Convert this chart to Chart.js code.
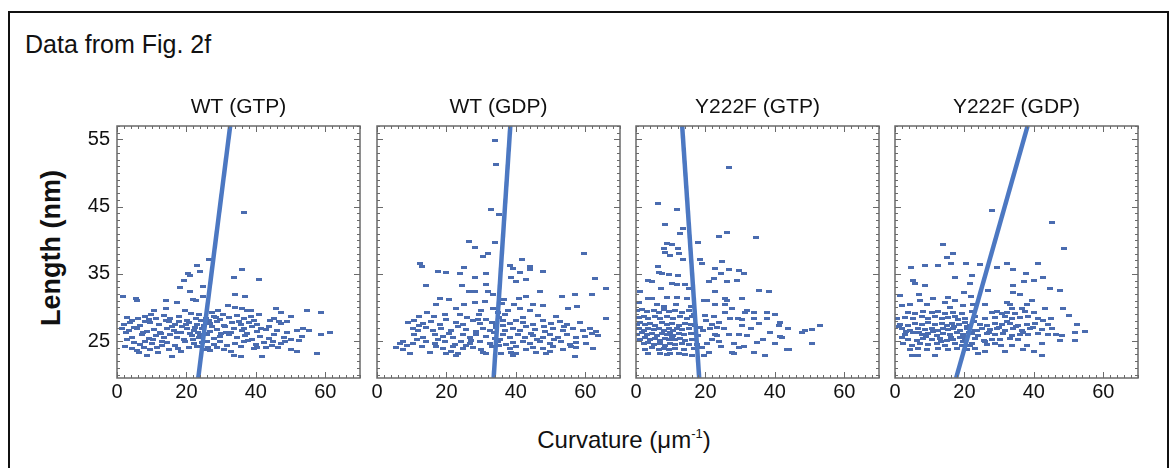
<!DOCTYPE html>
<html><head><meta charset="utf-8">
<script src="https://cdn.jsdelivr.net/npm/chart.js@4.4.1/dist/chart.umd.min.js"></script>
<style>
html,body{margin:0;padding:0;background:#fff;width:1176px;height:468px;overflow:hidden;font-family:"Liberation Sans",Arial,Helvetica,sans-serif;color:#111;}
#frame{position:absolute;left:8px;top:11px;width:1161px;height:480px;border:2px solid #111;box-sizing:border-box;}
#title{position:absolute;left:25px;top:29px;font-size:25px;line-height:30px;white-space:nowrap;}
#ylab{position:absolute;left:51px;top:248px;font-size:27px;font-weight:bold;white-space:nowrap;transform:translate(-50%,-50%) rotate(-90deg);}
#xlab{position:absolute;left:624px;top:440px;font-size:24px;white-space:nowrap;transform:translate(-50%,-50%);}
#xlab sup{font-size:13px;vertical-align:10px;}
canvas{position:absolute;}
</style></head>
<body>
<div id="frame"></div>
<div id="title">Data from Fig. 2f</div>
<div id="ylab">Length (nm)</div>
<div id="xlab">Curvature (μm<sup>-1</sup>)</div>
<script>
// ---- data ----
const panelTitles = ["WT (GTP)", "WT (GDP)", "Y222F (GTP)", "Y222F (GDP)"];
const xTickValues = [0, 20, 40, 60];
const yTickValues = [25, 35, 45, 55];
const xRange = [0, 70];
const yRange = [19.5, 57];

const wtGtpPoints = [
[36.5,44.1],[23,36.3],[26.4,37.1],[36.1,35.6],[20.4,35],[21,34.7],[19.2,34],[23.8,35.3],[33.8,34.5],[40.8,34.2],[18.1,32.9],[24.8,33.1],[21,32.4],[34.1,31.9],[37,31.7],[21.9,31.2],[22.8,31],[14.1,31],[17.3,30.8],[1.7,31.6],[5.6,31.4],[5.8,31],[24.8,31.6],[14.1,29.9],[10.6,29.5],[19.5,29.5],[32,30.3],[34.1,30],[36,29.9],[37.5,29.5],[38.5,29.5],[45.7,29.9],[47.1,29.2],[54.8,29.5],[58.7,29.3],[61.5,26.3],[58.7,26],[55.3,26.6],[57.7,23.1],[41.8,22.7],[33.7,22.8],[35.6,22.7],[15.9,22.7],[8.7,22.8],
[2.9,28.5],[4.3,28.1],[8.2,28.7],[9.1,28.2],[11.3,28.4],[13.5,28.8],[15.4,28.3],[17.8,28.6],[20.2,28.1],[23.6,28.9],[25.5,28.4],[27.9,28.7],[29.8,28.2],[32.2,28.5],[34.6,28.8],[36.5,28.3],[38.5,28.6],[39.4,28.1],[45.2,28.4],[50,28.7],
[1.9,27.5],[3.8,27.8],[6.7,27.3],[9.6,27.7],[12,27.4],[14.9,27.9],[16.8,27.5],[18.8,27.2],[20.7,27.8],[23.1,27.4],[26.9,27.6],[28.8,27.9],[30.8,27.3],[33.2,27.7],[35.6,27.4],[38,27.8],[40.4,27.5],[43.8,27.2],[47.1,27.6],[49,27.9],
[1.4,26.8],[3.4,26.5],[5.8,26.9],[8.7,26.4],[10.6,26.7],[12.5,26.3],[14.4,26.9],[16.3,26.6],[18.3,26.2],[20.2,26.8],[22.1,26.5],[24.5,26.9],[26.9,26.4],[28.8,26.7],[31.3,26.3],[33.7,26.8],[36.1,26.5],[36.5,26.9],[40.4,26.4],[42.8,26.7],[46.2,26.6],[49,26.3],[51.9,26.5],[53.5,26.8],
[4.3,25.6],[7.2,25.9],[9.1,25.4],[11.1,25.8],[13.5,25.5],[15.4,25.9],[17.3,25.6],[19.2,25.3],[21.6,25.8],[23.6,25.5],[26,25.9],[27.9,25.4],[29.8,25.7],[32.2,25.9],[34.6,25.5],[37,25.8],[38.9,25.3],[41.3,25.7],[43.8,25.4],[45.2,25.9],[48.1,25.6],[50,25.2],[53.4,25.7],
[4.8,24.8],[6.7,24.5],[8.2,24.9],[10.1,24.6],[14.4,24.8],[16.8,24.4],[19.7,24.9],[22.1,24.6],[24.5,24.8],[27.9,24.5],[29.8,24.9],[31.7,24.4],[34.1,24.7],[36.5,24.9],[39.9,24.5],[42.3,24.8],[44.7,24.4],[47.1,24.7],
[4.3,23.9],[5.8,23.6],[7.7,24.1],[9.6,23.7],[11.5,24],[14.9,23.8],[18.3,23.5],[20.7,24.1],[25,23.8],[26.9,23.6],[28.8,24],[30.8,23.7],[39.4,23.9],[50,23.8],[51.9,23.5],
[22.5,27],[24,26],[25,27.3],[23,24.2],[25.8,25],[24.3,28],[26.5,28.1],[21.3,29.1],[27.5,29.3],[29,29.6],[30.5,28.9],[12.7,26.1],[7.5,26.2],[3,25.2],[2.2,24.2],[45,25],[46.5,24.1],[41,29],
[22,25.2],[23.2,26.3],[25.3,26.1],[26.2,24.1],[27.3,27.1],[22.7,28.4],[21,26.1],[19.9,27.5],[18,27.9],[17.2,26.3],[15.9,27.2],[14,28.1],[13,25],[11.9,23.3],[10.3,25.2],[9.8,28.9],[8,27.9],[6,28.3],[5,27],[2.5,26.2],[30,26.1],[31.2,27.1],[32.8,26.2],[35,27.9],[37.5,26.1],[39,27.1],[41.5,26.9],[44,28.1],[46.8,27.9],[48.5,25],[52.5,25.1],[43,24],[35.6,24.2],[32.9,23.4],[17.5,23.9],[13,24.4],[6.3,23.3],[28.5,28.5],[37.8,25.1],[40.2,24.1]
];

const wtGdpPoints = [
[34.1,54.9],[34.4,51.3],[32.9,44.6],[35,43.8],[34.1,39.6],[26.5,39.8],[59.6,38.1],[28.1,38.9],[32,38],[30.5,37.6],[41.8,37.2],[12.3,36.6],[12.9,36.1],[38.2,36.2],[39.2,35.8],[44.2,36.1],[44,35.6],[47.8,35.4],[41.3,35.2],[17.7,35.3],[19.8,35.2],[23.8,35.1],[25,36],[31.5,35],[28.3,34.4],[38.7,34.4],[43,34.1],[40.1,33.8],[14.2,33.3],[24.6,33.3],[26.4,32.4],[31.5,33.4],[32,32.4],[33.4,32],[28.3,32.3],[46.9,32.3],[62.7,34.3],[66.1,32.8],[57.1,32],[53.3,31.6],[61.8,32],[18.1,31.4],[20.7,31.2],[17.1,30.5],[25,30.5],[28.1,30.7],[31,30.9],[40.9,31.4],[42.8,31.6],[45,30.5],[47.8,30.3],[55,29.9],[57.7,30.1],[66.1,28.3],[22.8,29.8],[30.1,29.5],[33.4,29.8],[37.7,29.5],[41.1,29.8],[44,29.5],[51.7,28.7],[19.5,28.9],[23.8,28.9],
[9,27.7],[10.8,28.1],[13.3,27.6],[15.6,27.9],[18.1,27.5],[20,28.2],[22.9,27.7],[24.8,27.4],[27.7,28],[29.6,27.6],[31.5,28.2],[33,27.8],[34.4,27.4],[36.3,28],[38.2,27.6],[40.1,28.1],[42.1,27.7],[45,27.4],[47.8,28],[50.2,27.6],[52.6,27.9],[54.6,27.5],[58.4,27.8],
[10.4,26.9],[11.8,26.5],[14.2,27],[16.1,26.6],[18.5,26.9],[21.4,26.5],[23.3,27.1],[25.7,26.7],[28.6,26.4],[30.5,26.9],[32.5,26.6],[34.4,27],[36.8,26.5],[39.2,26.9],[41.1,26.6],[43,27.1],[45.4,26.7],[48.3,26.4],[50.7,26.9],[53.6,26.6],[56.5,26.9],[59.4,26.5],[61.3,26.8],[63.2,26.4],
[10.8,25.9],[13.3,25.6],[16.6,26],[19,25.7],[21.9,25.5],[24.8,25.9],[26.7,25.6],[28.6,26],[31.5,25.7],[33.9,25.4],[36.3,25.9],[38.2,25.6],[40.6,26],[42.6,25.6],[45,25.8],[47.8,25.5],[49.8,25.9],[52.2,25.6],[54.6,25.9],[57.4,25.5],[63.7,25.8],
[7.5,24.9],[10.4,24.6],[14.2,25],[16.6,24.7],[19.5,24.9],[22.4,24.5],[24.3,24.9],[26.7,24.6],[29.6,25],[32.5,24.7],[34.9,24.9],[37.3,24.5],[39.2,24.8],[42.1,25],[44,24.6],[46.9,24.9],[49.8,24.6],[53.1,24.9],[55.5,24.5],[57.4,24.8],[60.3,24.6],
[5.6,24.1],[7.5,23.8],[17.1,24.2],[19,23.9],[21.9,24.2],[24.8,23.9],[27.7,24.1],[30.1,23.8],[33,24.2],[38.2,23.9],[40.1,24.2],[43,23.8],[45,24.1],[47.8,23.9],[50.7,24.2],[53.6,23.8],[57.4,24.1],[62.2,23.9],
[9.4,23.2],[15.2,23.3],[20,23.1],[21.4,23.4],[23.3,23.1],[30.5,23.3],[31.5,23.1],[35.8,23.2],[38.7,23.3],[40.1,23.1],[45.9,23.3],[48.8,23.2],[49.8,23.4],
[22.9,22.8],[39.2,22.8],[57,22.7],
[35.5,25.3],[36.2,27.3],[33.8,26.2],[35.1,28.5],[37,28.9],[36,30.6],[35.2,24.4],[34.9,29.3],[29,28.2],[27,25.1],[25.5,24.3],[20.8,26.1],[17.5,25.2],[13,24.2],[12,27.3],[11.5,25.3],[8.5,24.3],[6.5,24.6],[42,28.5],[44.5,26.1],[46,25.2],[48,27.2],[51,25.3],[54,27.1],[56,24.2],[60,25.7],[62,26.1],[46.5,28.8],[39.5,30.4],[36.5,31.2],[29.5,29],[26,28.5],[16.5,28.6],[14.5,29.2],[12,28.7]
];

const y222fGtpPoints = [
[26.9,50.8],[6.2,45.4],[11.8,44.6],[8.4,42.3],[13.4,41.7],[12.8,41],[23.8,40.6],[26.2,41.1],[34.7,40.4],[18,39.7],[8.9,39.5],[10.4,39.3],[8,38.8],[8.3,38.2],[12.1,38.7],[12.3,38],[9.9,37.8],[13.5,37.1],[18.5,37.1],[19,36.5],[24.8,36.9],[6.3,36.1],[6.5,35.2],[7.5,35.1],[9.4,34.9],[12,34.8],[22.9,35.8],[26.7,35.7],[29.6,35.5],[31,35],[22.4,34.3],[24.6,35.1],[21.1,33.9],[26.2,33.8],[29.1,34],[3.6,34],[4.6,33.8],[10.4,33.5],[11.8,33.4],[14.2,33.4],[15.2,32.8],[7.3,32.8],[35.3,32.5],[38.2,32.3],[22.9,32.4],[1.2,32.3],[25.7,31.4],[26.2,31],[30.5,31.4],[19.5,31],[20.5,31],[3.6,31.3],[4.6,31.3],[8.9,31.5],[11.8,31.5],[14.7,31.3],[0.8,30.7],[6.1,30.4],[8,30.2],[11.5,30.4],[22.9,30.4],[25.7,30.5],[27.7,29.8],[32,29.5],[31.5,29.2],[33.9,29.3],[37.7,29.3],[40.1,28.9],[27.2,28.4],[29.4,28.4],[30.4,28.2],[33.9,28.3],[37.7,28.4],[41.6,27.7],[41.1,27.3],[43.8,26.8],[48.8,26.5],[47.8,26.3],[50.7,26.7],[53.1,27.3],[50.7,24.6],[41.6,25.7],[42.1,25.5],[43.5,23.8],[44,23.8],[37.3,22.8],[34.9,24.8],[40.1,24.7],[32,25.8],[28.1,24.6],[27.7,23.3],[28.1,23.1],[29.6,24.1],[26.7,26],[29.6,26],[25.3,26.8],[23.3,27],[20,28.8],[22.4,28.7],[20.2,28],[21.9,27.4],[23.8,27.8],[21.4,26.8],[22.9,26],[23.3,25.8],[21.9,25.3],[23.8,25],[20.4,24.6],[20.9,23.3],[19.5,22.8],[19,24.1],[18,25.8],
[0.3,29.5],[1.7,29.7],[3.2,29.4],[5.1,29.6],[6.5,29.3],[8,29.7],[9.4,29.4],[11.3,29.6],[13.3,29.3],[15.2,29.6],
[0.8,28.5],[2.2,28.7],[3.6,28.4],[5.6,28.6],[7,28.3],[8.9,28.7],[10.8,28.4],[12.8,28.6],[14.7,28.3],[16.1,28.6],
[0.3,27.5],[1.2,27.7],[2.7,27.4],[4.1,27.6],[5.6,27.3],[7.5,27.7],[8.9,27.4],[10.4,27.6],[12.3,27.3],[14.2,27.6],[15.7,27.4],
[0.8,26.8],[2.2,26.6],[3.6,26.9],[5.1,26.7],[6.5,26.9],[8,26.6],[9.4,26.8],[10.8,26.5],[11.8,26.9],[13.3,26.7],[15.2,26.8],
[0.3,26],[1.7,26.2],[3.2,25.9],[4.6,26.1],[6,25.8],[7.5,26.1],[8.9,25.9],[9.9,26.2],[10.8,25.8],[12.3,26.1],[13.7,25.9],[15.7,26.1],
[1.2,25.3],[2.7,25.5],[4.1,25.2],[5.6,25.4],[7,25.1],[8.4,25.4],[9.4,25.2],[10.4,25.5],[11.3,25.2],[12.8,25.4],[14.2,25.1],[16.1,25.3],
[2.2,24.6],[3.6,24.8],[5.1,24.5],[7,24.7],[8.4,24.4],[9.9,24.7],[11.3,24.5],[13.3,24.7],[15.2,24.5],
[2.7,23.8],[4.6,24],[6.5,23.7],[8,23.9],[9.4,23.7],[11.3,23.9],[13.7,23.7],[16.6,23.9],
[3.6,23.1],[7,23.2],[8.9,23],[9.9,23.2],[12.3,23.1],[14.2,23],
[17,27.3],[16.8,29],[15.8,30.2],[18.5,27],[17.5,24.5],[16.2,22.9],[19.3,26.5],[24.5,24.2],[25.5,29.3],[30.5,27.3],[33,26.9],[35.5,27.6],[38.5,26.2],[36.5,25.2],[31,24.2],[34,23.3]
];

const y222fGdpPoints = [
[28,44.4],[45.2,42.6],[48.8,38.7],[13.9,39.3],[16.6,38],[15.1,37.4],[4.6,36],[8.5,36.3],[12.3,36.2],[16.1,36.6],[20.5,36.5],[24.5,36.4],[32.2,36.5],[33.9,35.6],[41.3,36.5],[29.3,35.9],[17.3,34.5],[22.1,34.7],[37.7,35.1],[42.5,34.5],[39.9,34],[37.3,33.8],[5.3,34],[5.8,33.5],[8.5,33.3],[34.1,33.3],[44.7,32.8],[47.6,32.5],[26.9,32.5],[21.6,33.5],[7,32],[1.4,31.8],[20,32.2],[34.1,32.2],[36,32],[11,31.4],[15.4,31.5],[17.3,31],[21.9,31.7],[39.4,31.1],[1.9,30.3],[4.3,30.4],[7.2,31],[9.1,30.5],[14.4,30.8],[15.9,30],[19.7,30.3],[22.6,30.4],[25.9,30.4],[32.2,30.8],[33.1,30.5],[37.9,30.5],[33.6,29.8],[36.5,29.9],[43.2,29.9],[48.5,29.8],[50,28.8],[52.4,27.4],[54.8,26.4],[51.9,26.3],[47.6,25.1],[51.9,25.1],[42.3,24.7],[33.6,24.3],[24,23.2],[25.9,23.4],[39.9,23.4],[42.3,22.8],[4.8,22.9],[6.7,22.8],[11.5,22.9],[37,23.8],
[3.8,29.3],[5.8,29.1],[8.2,29.4],[10.6,29.2],[12.5,29.4],[14.4,29.1],[16.8,29.3],[19.2,29.1],[22.1,29.4],[27.9,29.2],[29.3,29.4],[30.7,29.1],[32.2,29.3],[34.6,29.1],[37.5,29.4],[39.9,29.2],
[2.9,28.5],[5.3,28.3],[7.7,28.6],[9.6,28.4],[11.5,28.6],[13.4,28.3],[15.4,28.5],[17.3,28.7],[20.2,28.4],[23.1,28.6],[25.9,28.3],[28.8,28.5],[31.7,28.6],[33.6,28.3],[36,28.5],[38.4,28.6],[41.3,28.4],
[1.4,27.5],[3.8,27.3],[5.8,27.6],[7.7,27.4],[9.6,27.7],[11.5,27.4],[13.4,27.6],[14.9,27.3],[16.3,27.6],[18.3,27.4],[20.2,27.7],[21.6,27.3],[24.5,27.5],[26.4,27.3],[28.8,27.6],[30.7,27.4],[33.1,27.6],[35.5,27.3],[37.9,27.5],[40.3,27.6],[44.2,27.4],
[1.9,26.8],[4.3,26.6],[6.7,26.9],[8.6,26.7],[10.6,26.9],[12.5,26.6],[13.9,26.9],[15.4,26.7],[16.8,26.9],[18.7,26.6],[20.7,26.8],[23.1,26.6],[25,26.9],[27.4,26.7],[29.3,26.9],[31.7,26.6],[34.1,26.8],[36.5,26.6],[38.9,26.9],[42.3,26.7],[45.1,26.8],
[2.9,26],[5.3,26.2],[7.7,25.9],[9.6,26.1],[12,25.8],[13.9,26.1],[15.9,25.9],[17.8,26.2],[19.7,25.9],[22.1,26.1],[24,25.8],[26.4,26.1],[28.8,25.9],[31.2,26.1],[33.6,25.8],[36,26],[38.4,25.9],[41.3,26.1],[44.2,25.9],
[3.8,25.3],[6.2,25.1],[8.2,25.4],[10.6,25.2],[13,25.4],[14.9,25.1],[16.8,25.3],[18.7,25.5],[20.2,25.2],[23.1,25.4],[25.5,25.1],[27.9,25.3],[30.3,25.2],[33.1,25.4],[35.5,25.2],
[2.4,24.6],[4.8,24.4],[7.2,24.7],[9.6,24.5],[12,24.7],[14.4,24.4],[17.3,24.6],[19.2,24.4],[22.1,24.7],[26.4,24.5],[28.8,24.6],
[4.3,23.8],[6.7,23.9],[9.1,23.7],[12.5,23.9],[15.4,23.7],[17.8,23.9],[20.7,23.7],[23.1,23.9],
[20.8,27.1],[21.4,26.3],[20,25.7],[19.5,24.9],[21.7,24.3],[22.9,27.9],[23.7,26.5],[18.2,28.2],[17,27.1],[16,25.5],[26,25],[27.2,26.2],[29.9,27],[32.4,27.9],[34.9,27.1],[36.9,26.2],[39.7,27],[42.5,28.1],[44.9,28.4],[46.5,26],[48,25.8],[38,24.4],[30.5,24.3],[31.8,23.5],[13.2,24.9],[11,26.4],[9,25.7],[6.9,26.2],[3.3,26.4],[2,25.5],[1.2,27.1],[0.5,28.3]
];

// fitted lines: [xAtBottom, yBottom], [xAtTop, yTop]
const wtGtpFit = [[23.4,19.5],[32.6,57]];
const wtGdpFit = [[33.6,19.5],[38.4,57]];
const y222fGtpFit = [[18.2,19.5],[13.3,57]];
const y222fGdpFit = [[17.6,19.5],[38.2,57]];

// ---- layout / style ----
const panelLefts = [117, 377, 636, 895];
const panelW = 243;
const chartTop = 126;
const chartTopOffset = 31;
const plotH = 252;
const xAxisH = 32;
const FONT = '"Liberation Sans", Arial, Helvetica, sans-serif';
const pointColor = '#4a6cb0';
const lineColor = '#4c78c2';
const frameColor = '#6a6a6a';

const dash = document.createElement('canvas');
dash.width = 6; dash.height = 3;
(function(){const c = dash.getContext('2d'); c.fillStyle = pointColor; c.fillRect(0,0,6,3);})();

const framePlugin = {
  id: 'panelFrame',
  afterDatasetsDraw(chart) {
    const {ctx, chartArea: a, scales} = chart;
    const xs = scales.x, ys = scales.y;
    ctx.save();
    ctx.strokeStyle = frameColor;
    ctx.lineWidth = 1;
    ctx.beginPath();
    for (let v = xRange[0]; v <= xRange[1]; v += 2) {
      const px = Math.round(xs.getPixelForValue(v)) + 0.5;
      const L = (v % 20 === 0) ? 6 : 3;
      ctx.moveTo(px, a.bottom); ctx.lineTo(px, a.bottom - L);
      ctx.moveTo(px, a.top); ctx.lineTo(px, a.top + L);
    }
    for (let v = 20; v <= 57; v += 1) {
      const py = Math.round(ys.getPixelForValue(v)) + 0.5;
      const L = ((v - 25) % 10 === 0) ? 6 : 3;
      ctx.moveTo(a.left, py); ctx.lineTo(a.left + L, py);
      ctx.moveTo(a.right, py); ctx.lineTo(a.right - L, py);
    }
    ctx.stroke();
    ctx.lineWidth = 1.5;
    ctx.strokeRect(a.left, a.top, a.right - a.left, a.bottom - a.top);
    ctx.restore();
  }
};

function makePanel(i, points, fit) {
  const showY = i === 0;
  const yW = showY ? 45 : 8;
  const cv = document.createElement('canvas');
  cv.width = yW + panelW + yW;
  cv.height = chartTopOffset + plotH + xAxisH;
  cv.style.left = (panelLefts[i] - yW) + 'px';
  cv.style.top = (chartTop - chartTopOffset) + 'px';
  document.body.appendChild(cv);
  new Chart(cv, {
    data: {
      datasets: [
        {type: 'line', data: fit.map(p => ({x: p[0], y: p[1]})), borderColor: lineColor, borderWidth: 4.5,
         pointRadius: 0, fill: false, order: 0, clip: 0},
        {type: 'scatter', data: points.map(p => ({x: p[0], y: p[1]})), pointStyle: dash, pointRadius: 3,
         backgroundColor: pointColor, borderWidth: 0, order: 1}
      ]
    },
    options: {
      responsive: false, animation: false, devicePixelRatio: 1,
      layout: {padding: 0},
      plugins: {
        legend: {display: false}, tooltip: {enabled: false},
        title: {display: true, text: panelTitles[i], color: '#111',
                font: {size: 21, family: FONT, weight: 'normal', lineHeight: 1.2},
                padding: {top: 0, bottom: chartTopOffset - 25.2}}
      },
      scales: {
        x: {type: 'linear', min: xRange[0], max: xRange[1],
            grid: {display: false, drawTicks: false}, border: {display: false},
            ticks: {color: '#111', font: {size: 20, family: FONT}, padding: 2, autoSkip: false, maxRotation: 0},
            afterBuildTicks: s => { s.ticks = xTickValues.map(v => ({value: v})); },
            afterFit: s => { s.height = xAxisH; }},
        y: {type: 'linear', position: 'left', min: yRange[0], max: yRange[1],
            grid: {display: false, drawTicks: false}, border: {display: false},
            ticks: {display: showY, color: '#111', font: {size: 20, family: FONT}, padding: 7, autoSkip: false},
            afterBuildTicks: s => { s.ticks = yTickValues.map(v => ({value: v})); },
            afterFit: s => { s.width = yW; }},
        yRight: {type: 'linear', position: 'right', min: yRange[0], max: yRange[1],
            grid: {display: false, drawTicks: false}, border: {display: false},
            ticks: {display: false},
            afterFit: s => { s.width = yW; }}
      }
    },
    plugins: [framePlugin]
  });
}

makePanel(0, wtGtpPoints, wtGtpFit);
makePanel(1, wtGdpPoints, wtGdpFit);
makePanel(2, y222fGtpPoints, y222fGtpFit);
makePanel(3, y222fGdpPoints, y222fGdpFit);
</script>
</body></html>
